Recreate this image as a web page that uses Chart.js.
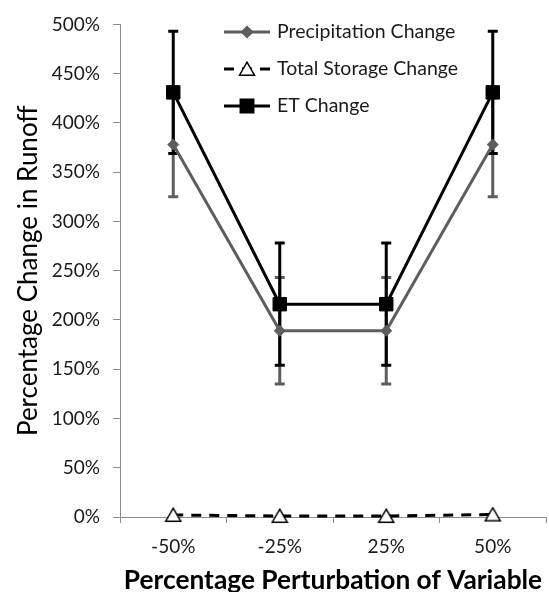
<!DOCTYPE html>
<html>
<head>
<meta charset="utf-8">
<script src="https://cdn.jsdelivr.net/npm/chart.js@4/dist/chart.umd.min.js"></script>
<style>
  html, body { margin: 0; padding: 0; background: #ffffff; }
  #wrap { width: 549px; height: 592px; }
</style>
</head>
<body>
<div id="wrap"><canvas id="c" width="549" height="592"></canvas></div>
<script>
const categories = ['-50%', '-25%', '25%', '50%'];
const seriesNames = ['Precipitation Change', 'Total Storage Change', 'ET Change'];
const precipValues = [378, 189, 189, 378];
const precipErrors = [53, 54, 54, 53];
const storageValues = [2, 1, 1, 2.5];
const etValues = [431, 216, 216, 431];
const etErrors = [62, 62, 62, 62];
const yTickValues = [0, 50, 100, 150, 200, 250, 300, 350, 400, 450, 500];
const xAxisTitle = 'Percentage Perturbation of Variable';
const yAxisTitle = 'Percentage Change in Runoff';

const FONT = 'Lato, "Open Sans", sans-serif';
const GRAY = '#5e5e5e';

// Open triangle marker image, centred on its bounding box
function makeTriangle() {
  const w = 18, h = 16;
  const cv = document.createElement('canvas');
  cv.width = w; cv.height = h;
  const c = cv.getContext('2d');
  c.beginPath();
  c.moveTo(w / 2, 1.2);
  c.lineTo(w - 1.5, h - 1.8);
  c.lineTo(1.5, h - 1.8);
  c.closePath();
  c.fillStyle = '#ffffff';
  c.fill();
  c.lineWidth = 1.5;
  c.strokeStyle = '#000000';
  c.stroke();
  return cv;
}
const triangleImg = makeTriangle();

const errorBarPlugin = {
  id: 'errorBars',
  beforeDatasetsDraw(chart) {
    const ctx = chart.ctx;
    const x = chart.scales.x, y = chart.scales.y;
    const sets = [
      { values: precipValues, errors: precipErrors, color: GRAY },
      { values: etValues, errors: etErrors, color: '#000000' }
    ];
    ctx.save();
    sets.forEach(s => {
      ctx.strokeStyle = s.color;
      ctx.lineWidth = 3;
      s.values.forEach((v, i) => {
        const px = x.getPixelForValue(i);
        const yTop = y.getPixelForValue(v + s.errors[i]);
        const yBot = y.getPixelForValue(v - s.errors[i]);
        ctx.beginPath();
        ctx.moveTo(px, yTop); ctx.lineTo(px, yBot);
        ctx.moveTo(px - 5, yTop); ctx.lineTo(px + 5, yTop);
        ctx.moveTo(px - 5, yBot); ctx.lineTo(px + 5, yBot);
        ctx.stroke();
      });
    });
    ctx.restore();
  }
};

function drawMarker(ctx, style, cx, cy, r, fill, stroke) {
  if (style instanceof HTMLCanvasElement) {
    ctx.drawImage(style, cx - style.width / 2, cy - style.height / 2);
    return;
  }
  ctx.beginPath();
  if (style === 'rectRot') {
    ctx.moveTo(cx, cy - r); ctx.lineTo(cx + r, cy); ctx.lineTo(cx, cy + r); ctx.lineTo(cx - r, cy);
  } else if (style === 'rect') {
    const h = r * Math.SQRT1_2;
    ctx.rect(cx - h, cy - h, 2 * h, 2 * h);
  }
  ctx.closePath();
  ctx.fillStyle = fill;
  ctx.fill();
  ctx.setLineDash([]);
  ctx.strokeStyle = stroke;
  ctx.lineWidth = 1.5;
  ctx.stroke();
}

const legendPlugin = {
  id: 'insideLegend',
  afterDraw(chart) {
    const ctx = chart.ctx;
    const rows = [32, 69, 106];
    ctx.save();
    chart.data.datasets.forEach((ds, i) => {
      const yy = rows[i];
      ctx.beginPath();
      ctx.strokeStyle = ds.borderColor;
      ctx.lineWidth = ds.borderWidth;
      ctx.setLineDash(ds.borderDash || []);
      ctx.moveTo(224, yy); ctx.lineTo(270, yy);
      ctx.stroke();
      drawMarker(ctx, ds.pointStyle, 247, yy, ds.pointRadius, ds.pointBackgroundColor, ds.pointBorderColor);
      ctx.fillStyle = '#1a1a1a';
      ctx.font = '19.5px ' + FONT;
      ctx.textBaseline = 'middle';
      ctx.textAlign = 'left';
      ctx.fillText(ds.label, 277, yy);
    });
    ctx.restore();
  }
};

new Chart(document.getElementById('c'), {
  type: 'line',
  data: {
    labels: categories,
    datasets: [
      {
        label: seriesNames[0], data: precipValues,
        borderColor: GRAY, borderWidth: 3,
        pointStyle: 'rectRot', pointRadius: 5.5,
        pointBackgroundColor: GRAY, pointBorderColor: GRAY, pointBorderWidth: 1,
        clip: false, order: 3
      },
      {
        label: seriesNames[1], data: storageValues,
        borderColor: '#000000', borderWidth: 3, borderDash: [10, 8],
        pointStyle: triangleImg, pointRadius: 8,
        pointBackgroundColor: '#ffffff', pointBorderColor: '#000000', pointBorderWidth: 1.5,
        clip: false, order: 1
      },
      {
        label: seriesNames[2], data: etValues,
        borderColor: '#000000', borderWidth: 3,
        pointStyle: 'rect', pointRadius: 9.5,
        pointBackgroundColor: '#000000', pointBorderColor: '#000000', pointBorderWidth: 1,
        clip: false, order: 2
      }
    ]
  },
  options: {
    responsive: false,
    animation: false,
    events: [],
    layout: { autoPadding: false, padding: { top: 22, right: 3, bottom: 0, left: 0 } },
    plugins: { legend: { display: false }, tooltip: { enabled: false } },
    scales: {
      x: {
        offset: true,
        grid: { offset: true, drawOnChartArea: false, drawTicks: true, tickLength: 6, color: '#8c8c8c', lineWidth: 1 },
        border: { color: '#8c8c8c', width: 1 },
        ticks: { color: '#1a1a1a', font: { family: FONT, size: 19 }, padding: 12, maxRotation: 0 },
        title: { display: true, text: xAxisTitle, color: '#000000', font: { family: FONT, size: 26.3, weight: 'bold', lineHeight: 0.9 }, padding: { top: 0, bottom: 0 } },
        afterFit(scale) { scale.height = 75; scale.paddingLeft = 0; scale.paddingRight = 0; }
      },
      y: {
        min: 0, max: 500,
        afterBuildTicks(scale) { scale.ticks = yTickValues.map(v => ({ value: v })); },
        grid: { drawOnChartArea: false, drawTicks: true, tickLength: 7, color: '#8c8c8c', lineWidth: 1 },
        border: { color: '#8c8c8c', width: 1 },
        ticks: { color: '#1a1a1a', font: { family: FONT, size: 19 }, padding: 13, callback: v => v + '%' },
        title: { display: true, text: yAxisTitle, color: '#000000', font: { family: FONT, size: 26, weight: 'normal', lineHeight: 1.2 }, padding: { top: 13, bottom: 0 } },
        afterFit(scale) { scale.width = 120; }
      }
    }
  },
  plugins: [errorBarPlugin, legendPlugin]
});
</script>
</body>
</html>
